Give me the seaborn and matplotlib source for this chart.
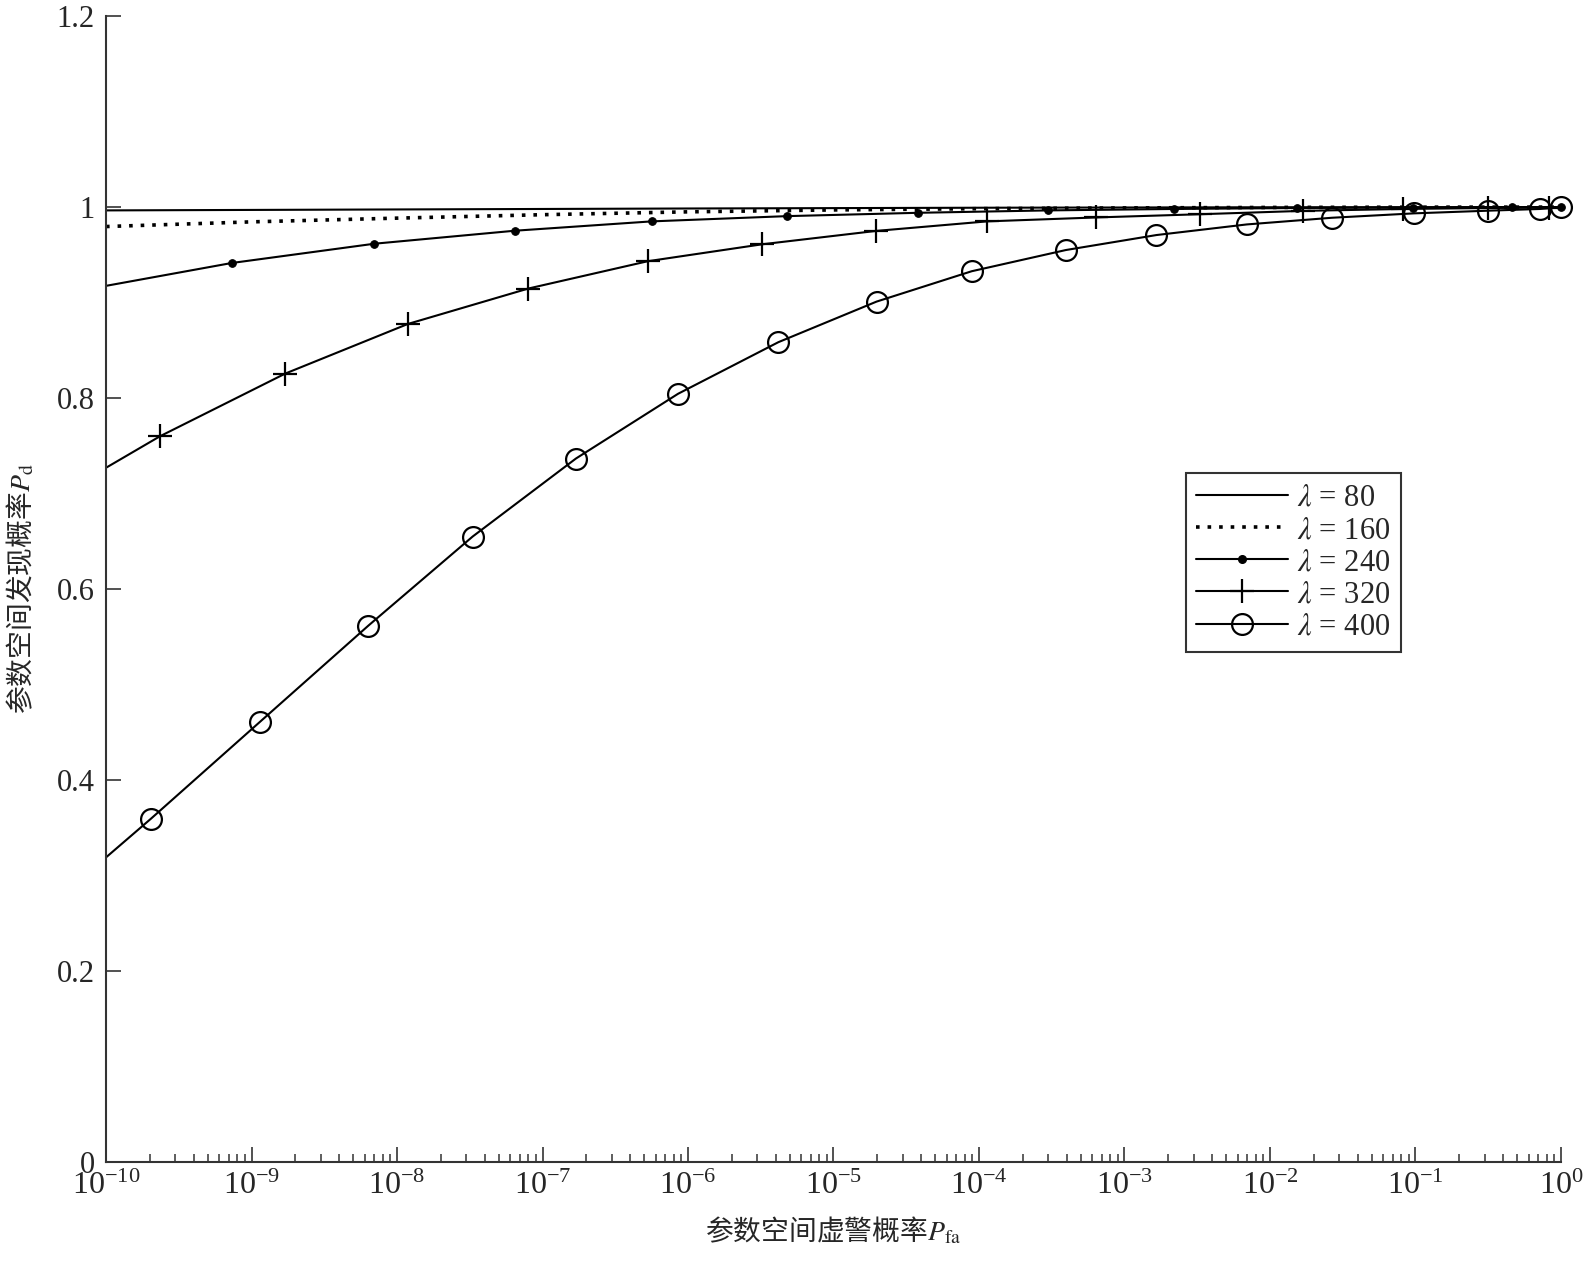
import numpy as np
import pandas as pd
import matplotlib
matplotlib.use("Agg")
import matplotlib.pyplot as plt
from matplotlib.lines import Line2D
from matplotlib.ticker import LogLocator, FixedLocator, FixedFormatter, NullFormatter
import seaborn as sns

# log10 of false-alarm probability and detection probability
exp80 = [-10, -8, -6, -4, -2, 0]
pd80 = [0.9965, 0.9975, 0.9985, 0.9993, 0.9998, 1.0]

exp160 = [-10, -9, -8, -7, -6, -5, -4, -3, -2, -1, 0]
pd160 = [0.9796, 0.9845, 0.9884, 0.9920, 0.9950, 0.9970, 0.9983, 0.9991, 0.9996, 0.9999, 1.0]

# first point of each marked series is where the line starts (no marker there)
exp240 = [-10, -9.137, -8.156, -7.192, -6.25, -5.32, -4.416, -3.526, -2.66, -1.811, -1.02, -0.34, 0]
pd240 = [0.9175, 0.9414, 0.9616, 0.9752, 0.985, 0.9905, 0.994, 0.9965, 0.998, 0.999, 0.9995, 0.9999, 1.0]

exp320 = [-10, -9.629, -8.767, -7.925, -7.097, -6.276, -5.491, -4.708, -3.945, -3.199, -2.478,
          -1.776, -1.086, -0.50, -0.083]
pd320 = [0.727, 0.760, 0.8257, 0.8776, 0.9147, 0.9433, 0.961, 0.975, 0.985, 0.9891, 0.9925,
         0.996, 0.998, 0.999, 0.9995]

exp400 = [-10, -9.692, -8.94, -8.196, -7.48, -6.77, -6.068, -5.379, -4.704, -4.05, -3.403,
          -2.78, -2.16, -1.574, -1.01, -0.50, -0.144, 0]
pd400 = [0.319, 0.3594, 0.4612, 0.5618, 0.655, 0.7367, 0.8045, 0.8585, 0.901, 0.9328, 0.955,
         0.9707, 0.9818, 0.9888, 0.9934, 0.9962, 0.998, 0.9997]

lambdas = [80, 160, 240, 320, 400]
ytick_values = [0, 0.2, 0.4, 0.6, 0.8, 1.0, 1.2]
ytick_labels = ['0', '0.2', '0.4', '0.6', '0.8', '1', '1.2']

sns.set_style("ticks")
plt.rcParams['font.family'] = ['Liberation Serif', 'Noto Sans CJK SC']
plt.rcParams['mathtext.fontset'] = 'stix'
plt.rcParams['axes.unicode_minus'] = True

fig = plt.figure(figsize=(15.87, 12.65), dpi=100)
ax = fig.add_axes([0.0668, 0.0814, 0.9168, 0.9059])
ax.set_xscale('log')

dotted = (0, (1, 2.2))
series = [
    (exp80, pd80, dict(ls='-', marker=None)),
    (exp160, pd160, dict(ls=dotted, marker=None, lw=2.6)),
    (exp240, pd240, dict(ls='-', marker='o', ms=5.5, mfc='k', mec='k', markevery=slice(1, None))),
    (exp320, pd320, dict(ls='-', marker='+', ms=17, mec='k', mew=1.6, markevery=slice(1, None))),
    (exp400, pd400, dict(ls='-', marker='o', ms=15, mfc='none', mec='k', mew=1.6,
                         markevery=slice(1, None))),
]

for (ex, yv, style), lam in zip(series, lambdas):
    kw = dict(color='k', lw=1.5)
    kw.update(style)
    df = pd.DataFrame({'pfa': 10.0 ** np.array(ex), 'pd': yv})
    sns.lineplot(data=df, x='pfa', y='pd', ax=ax, sort=True, clip_on=False, **kw)

ax.set_xlim(1e-10, 1)
ax.set_ylim(0, 1.2)

ax.xaxis.set_major_locator(LogLocator(base=10, numticks=30))
ax.xaxis.set_minor_locator(LogLocator(base=10, subs=np.arange(2, 10), numticks=30))
ax.xaxis.set_minor_formatter(NullFormatter())
ax.yaxis.set_major_locator(FixedLocator(ytick_values))
ax.yaxis.set_major_formatter(FixedFormatter(ytick_labels))
ax.yaxis.set_minor_locator(FixedLocator([]))

for s in ['top', 'right']:
    ax.spines[s].set_visible(False)
for s in ['left', 'bottom']:
    ax.spines[s].set_color('#333333')
    ax.spines[s].set_linewidth(1.5)

ax.tick_params(axis='both', which='major', direction='in', length=10.5, width=1.2,
               color='#333333', labelsize=22)
ax.tick_params(axis='x', which='minor', direction='in', length=5.5, width=1.1, color='#333333')
ax.tick_params(axis='x', which='major', pad=7, labelsize=23)
ax.tick_params(axis='y', which='major', pad=8)

# Chinese text goes through mathtext's default font, so give the labels the CJK family
ax.set_xlabel('参数空间虚警概率$P_{\\mathrm{fa}}$', fontsize=20, labelpad=11,
              family='Noto Sans CJK SC')
ax.set_ylabel('参数空间发现概率$P_{\\mathrm{d}}$', fontsize=20, labelpad=14,
              family='Noto Sans CJK SC')

# legend proxies (one marker centred on each handle)
handles = [
    Line2D([], [], color='k', lw=1.5, ls='-'),
    Line2D([], [], color='k', lw=2.6, ls=dotted),
    Line2D([], [], color='k', lw=1.5, marker='o', ms=5.5),
    Line2D([], [], color='k', lw=1.5, marker='+', ms=17, mew=1.6),
    Line2D([], [], color='k', lw=1.5, marker='o', ms=15, mfc='none', mew=1.6),
]
labels = [f'$\\lambda$ = {lam}' for lam in lambdas]
leg = ax.legend(handles, labels, loc='upper left', bbox_to_anchor=(0.742, 0.601),
                fontsize=22, frameon=True, fancybox=False, handlelength=3.0,
                labelspacing=0.1, borderpad=0.35, handletextpad=0.3, borderaxespad=0)
leg.get_frame().set_edgecolor('k')
leg.get_frame().set_linewidth(1.5)

fig.savefig('out.png', dpi=100)
